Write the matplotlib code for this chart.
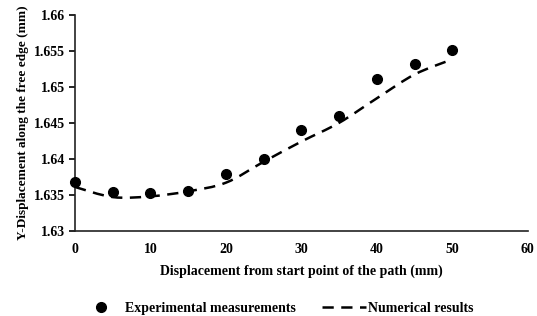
import matplotlib
matplotlib.use("Agg")
import matplotlib.pyplot as plt
from matplotlib.lines import Line2D
from matplotlib.path import Path
from matplotlib.patches import PathPatch

x = [0, 5, 10, 15, 20, 25, 30, 35, 40, 45, 50]
experimental = [1.6368, 1.6354, 1.6352, 1.6355, 1.6379, 1.6400, 1.6440, 1.6460, 1.6511, 1.6532, 1.6551]
numerical = [1.6361, 1.6347, 1.6348, 1.6355, 1.6367, 1.6396, 1.6424, 1.6450, 1.6484, 1.6517, 1.6538]
xticks = [0, 10, 20, 30, 40, 50, 60]
yticks = [1.63, 1.635, 1.64, 1.645, 1.65, 1.655, 1.66]
ytick_labels = ["1.63", "1.635", "1.64", "1.645", "1.65", "1.655", "1.66"]

plt.rcParams['font.family'] = ['Liberation Serif', 'DejaVu Serif']
plt.rcParams['font.weight'] = 'bold'

fig = plt.figure(figsize=(5.37, 3.16), dpi=100)
ax = fig.add_axes([0.1397, 0.269, 0.8433, 0.685])

DASH = (0, (4.5, 3))


def smooth_path(xs, ys, t=1.0 / 6):
    # Excel-like smoothed line: cubic Bezier segments through the data points
    verts = [(xs[0], ys[0])]
    codes = [Path.MOVETO]
    n = len(xs)
    for i in range(n - 1):
        x0, y0 = (xs[i - 1], ys[i - 1]) if i > 0 else (xs[i], ys[i])
        x1, y1 = xs[i], ys[i]
        x2, y2 = xs[i + 1], ys[i + 1]
        x3, y3 = (xs[i + 2], ys[i + 2]) if i + 2 < n else (xs[i + 1], ys[i + 1])
        c1 = (x1 + (x2 - x0) * t, y1 + (y2 - y0) * t)
        c2 = (x2 - (x3 - x1) * t, y2 - (y3 - y1) * t)
        verts += [c1, c2, (x2, y2)]
        codes += [Path.CURVE4] * 3
    return Path(verts, codes)


ax.add_patch(PathPatch(smooth_path(x, numerical), facecolor='none', edgecolor='black',
                       linestyle=DASH, linewidth=1.8, zorder=2))
ax.plot(x, experimental, 'o', color='black', markersize=7, zorder=3, clip_on=False)

ax.set_xlim(0, 60)
ax.set_ylim(1.63, 1.66)
ax.set_xticks(xticks)
ax.set_yticks(yticks)
ax.set_yticklabels(ytick_labels)
for s in ['top', 'right']:
    ax.spines[s].set_visible(False)
for s in ['left', 'bottom']:
    ax.spines[s].set_linewidth(1.2)
    ax.spines[s].set_color('#222222')
ax.tick_params(axis='x', length=0, pad=9, labelsize=10)
ax.tick_params(axis='y', length=4, width=1.2, direction='out', pad=3, labelsize=10)
for lab in ax.get_xticklabels() + ax.get_yticklabels():
    lab.set_fontweight('bold')

ax.set_xlabel('Displacement from start point of the path (mm)', fontsize=10, fontweight='bold', labelpad=6)
ax.set_ylabel('Y-Displacement along the free edge (mm)', fontsize=9.5, fontweight='bold', labelpad=4)

handles = [
    Line2D([], [], marker='o', color='black', linestyle='none', markersize=7),
    Line2D([], [], color='black', linestyle=DASH, linewidth=1.8),
]
fig.legend(handles, ['Experimental measurements', 'Numerical results'],
           loc='center', bbox_to_anchor=(0.514, 0.025), ncol=2, frameon=False,
           prop={'weight': 'bold', 'size': 10}, columnspacing=1.85, handlelength=3.2,
           handletextpad=0.15, borderpad=0, borderaxespad=0)

fig.savefig('out.png', dpi=100)
